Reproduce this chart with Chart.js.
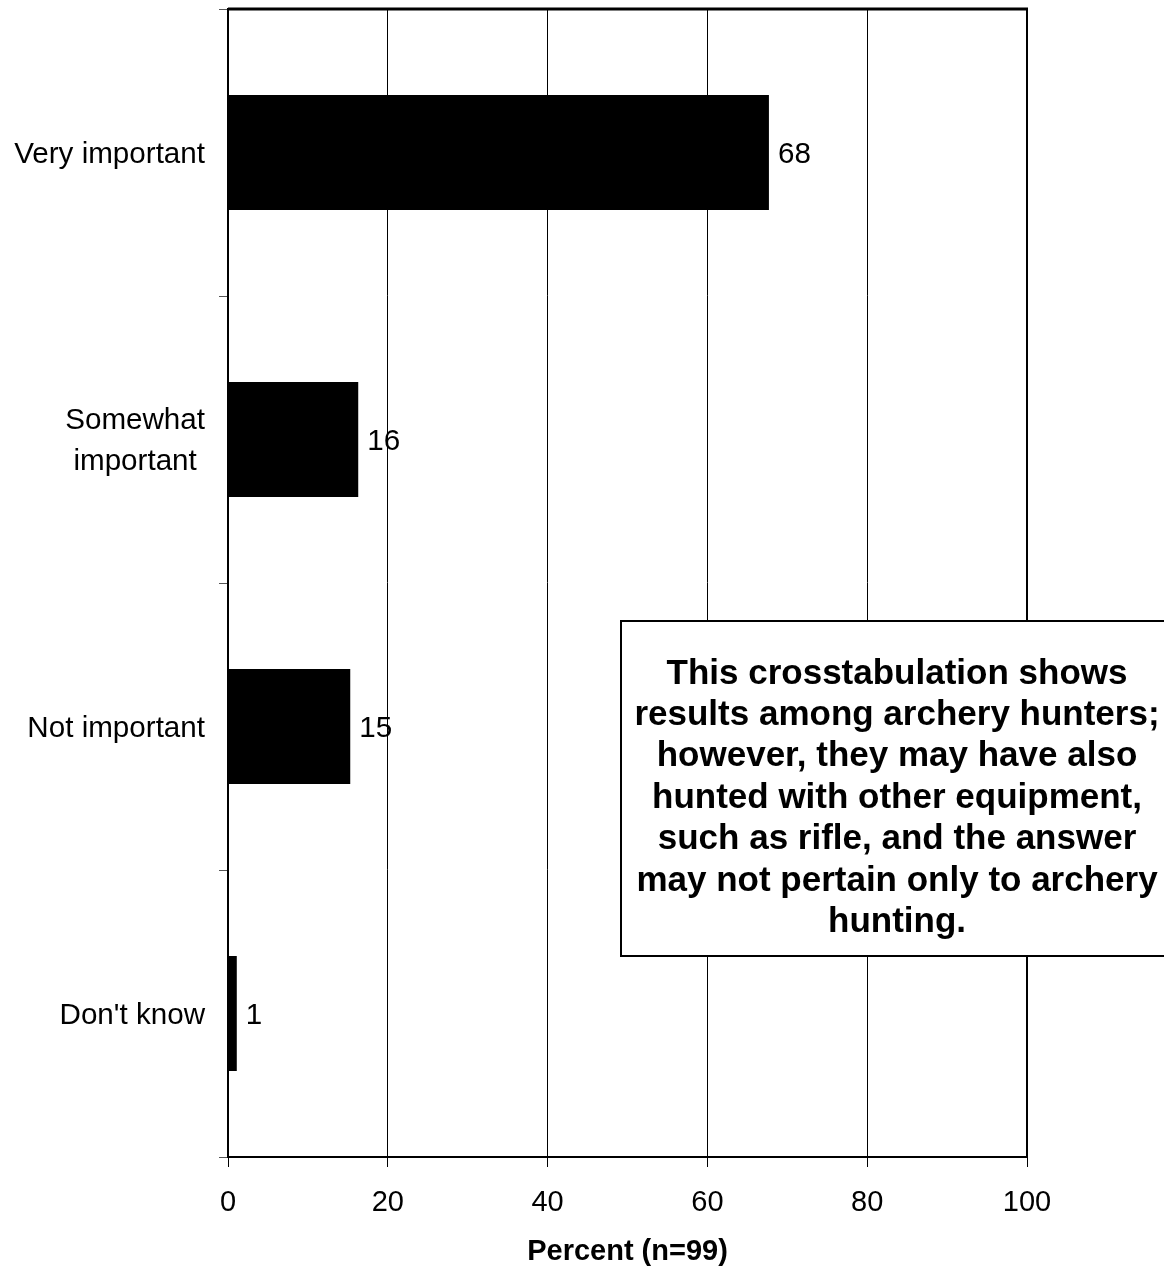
<!DOCTYPE html>
<html>
<head>
<meta charset="utf-8">
<script src="https://cdn.jsdelivr.net/npm/chart.js@4/dist/chart.umd.min.js"></script>
<style>
  html, body { margin: 0; padding: 0; background: #fff; }
  #wrap { width: 1164px; height: 1269px; }
</style>
</head>
<body>
<div id="wrap"><canvas id="canvas"></canvas></div>
<script>
const categories = [["Very important"], ["Somewhat", "important"], ["Not important"], ["Don't know"]];
const percents = [67.7, 16.3, 15.3, 1.1];
const valueLabels = ["68", "16", "15", "1"];
const xTicks = [0, 20, 40, 60, 80, 100];
const noteLines = [
  "This crosstabulation shows",
  "results among archery hunters;",
  "however, they may have also",
  "hunted with other equipment,",
  "such as rifle, and the answer",
  "may not pertain only to archery",
  "hunting."
];

const FONT = "'Liberation Sans', Arial, sans-serif";

// category names: lines centered on each other, block right-aligned to the axis
const categoryLabels = {
  id: "categoryLabels",
  afterDraw(chart) {
    const c = chart.ctx;
    const y = chart.scales.y;
    c.save();
    c.font = "29.6px " + FONT;
    c.fillStyle = "#000";
    c.textBaseline = "middle";
    c.textAlign = "center";
    categories.forEach((lines, i) => {
      const cy = y.getPixelForValue(i) + 2;
      const w = Math.max(...lines.map(l => c.measureText(l).width));
      const cx = 205 - w / 2;
      const lh = 41;
      lines.forEach((l, j) => {
        c.fillText(l, cx, cy + (j - (lines.length - 1) / 2) * lh);
      });
    });
    c.restore();
  }
};

const barValues = {
  id: "barValues",
  afterDatasetsDraw(chart) {
    const c = chart.ctx;
    c.save();
    c.font = "29.6px " + FONT;
    c.fillStyle = "#000";
    c.textBaseline = "middle";
    c.textAlign = "left";
    chart.getDatasetMeta(0).data.forEach((bar, i) => {
      c.fillText(valueLabels[i], bar.x + 9, bar.y + 2);
    });
    c.restore();
  }
};

const frame = {
  id: "frame",
  afterDraw(chart) {
    const a = chart.chartArea;
    const c = chart.ctx;
    c.save();
    c.strokeStyle = "#000";
    c.lineWidth = 3;
    c.beginPath();
    c.moveTo(a.left, a.top);
    c.lineTo(a.right + 1, a.top);
    c.stroke();
    c.lineWidth = 2;
    c.beginPath();
    c.moveTo(a.right, a.top);
    c.lineTo(a.right, a.bottom);
    c.stroke();

    // note box
    const bx = 621, by = 621, bw = 560, bh = 335;
    c.fillStyle = "#fff";
    c.fillRect(bx, by, bw, bh);
    c.lineWidth = 2;
    c.strokeRect(bx, by, bw, bh);
    c.fillStyle = "#000";
    c.font = "bold 35px " + FONT;
    c.textAlign = "center";
    c.textBaseline = "middle";
    noteLines.forEach((l, i) => {
      c.fillText(l, 897, 674 + i * 41.4);
    });
    c.restore();
  }
};

new Chart(document.getElementById("canvas"), {
  type: "bar",
  data: {
    labels: categories,
    datasets: [
      {
        data: percents,
        backgroundColor: "#000",
        borderWidth: 0,
        barPercentage: 0.4,
        categoryPercentage: 1.0,
      },
    ],
  },
  options: {
    indexAxis: "y",
    responsive: true,
    maintainAspectRatio: false,
    animation: false,
    layout: { padding: { top: 9, right: 137, left: 0, bottom: 0 } },
    scales: {
      x: {
        min: 0,
        max: 100,
        afterBuildTicks(scale) {
          scale.ticks = xTicks.map(v => ({ value: v }));
        },
        afterFit(scale) {
          scale.height = 112;
        },
        grid: {
          color: "#000",
          lineWidth: 1,
          tickLength: 10,
        },
        border: { color: "#000", width: 2 },
        ticks: {
          color: "#000",
          font: { family: FONT, size: 29 },
          padding: 19,
          maxRotation: 0,
        },
        title: {
          display: true,
          text: "Percent (n=99)",
          color: "#000",
          font: { family: FONT, size: 29, weight: "bold" },
          padding: { top: 2, bottom: 0 },
        },
      },
      y: {
        afterFit(scale) {
          scale.width = 228;
        },
        grid: {
          drawOnChartArea: false,
          drawTicks: true,
          tickLength: 9,
          color: "#555",
          lineWidth: 1,
        },
        border: { color: "#000", width: 2 },
        ticks: { display: false },
      },
    },
    plugins: {
      legend: { display: false },
      tooltip: { enabled: false },
    },
  },
  plugins: [categoryLabels, barValues, frame],
});
</script>
</body>
</html>
